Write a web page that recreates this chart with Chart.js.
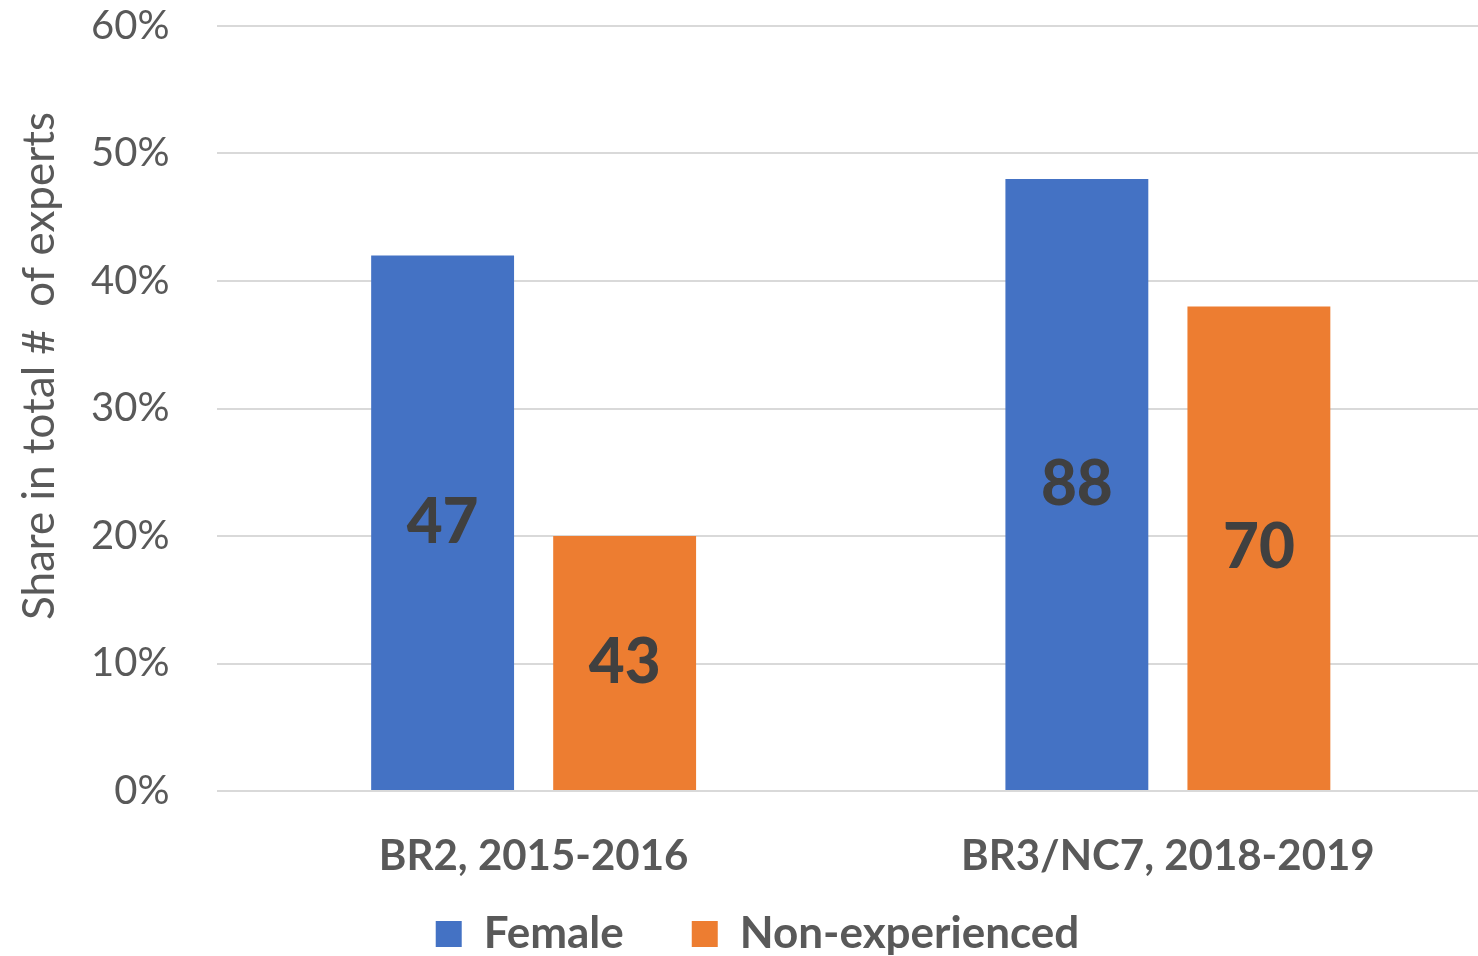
<!DOCTYPE html>
<html>
<head>
<meta charset="utf-8">
<script src="https://cdn.jsdelivr.net/npm/chart.js@4.4.1/dist/chart.umd.min.js"></script>
<style>
  html, body { margin: 0; padding: 0; background: #fff; overflow: hidden; }
  #wrap { width: 1485px; height: 956px; }
</style>
</head>
<body>
<div id="wrap"><canvas id="expertsChart"></canvas></div>
<script>
// data
const categories = ["BR2, 2015-2016", "BR3/NC7, 2018-2019"];
const femaleShare = [42, 48];
const nonExpShare = [20, 38];
const femaleCount = [47, 88];
const nonExpCount = [43, 70];
const yTicks = [0, 10, 20, 30, 40, 50, 60];
const yTitle = "Share in total #  of experts";

const textGray = "#595959";

// numbers in the middle of each bar
const barLabels = {
  id: "barLabels",
  afterDatasetsDraw(chart) {
    const ctx = chart.ctx;
    ctx.save();
    ctx.font = "900 62px Lato";
    ctx.fillStyle = "#404040";
    ctx.textAlign = "center";
    ctx.textBaseline = "middle";
    chart.data.datasets.forEach((ds, i) => {
      chart.getDatasetMeta(i).data.forEach((bar, j) => {
        ctx.fillText(ds.counts[j], bar.x, (bar.y + bar.base) / 2);
      });
    });
    ctx.restore();
  },
};

// y axis title, placed where excel put it
const sideTitle = {
  id: "sideTitle",
  afterDraw(chart) {
    const ctx = chart.ctx;
    ctx.save();
    ctx.translate(40, 366);
    ctx.rotate(-Math.PI / 2);
    ctx.font = "44px Lato";
    ctx.fillStyle = textGray;
    ctx.textAlign = "center";
    ctx.textBaseline = "middle";
    ctx.fillText(yTitle, 0, 0);
    ctx.restore();
  },
};

const ctx = document.getElementById("expertsChart");
new Chart(ctx, {
  type: "bar",
  data: {
    labels: categories,
    datasets: [
      {
        label: "Female",
        data: femaleShare,
        counts: femaleCount,
        backgroundColor: "#4472C4",
        borderWidth: 0,
      },
      {
        label: "Non-experienced",
        data: nonExpShare,
        counts: nonExpCount,
        backgroundColor: "#ED7D31",
        borderWidth: 0,
      },
    ],
  },
  options: {
    responsive: true,
    maintainAspectRatio: false,
    animation: false,
    categoryPercentage: 0.574,
    barPercentage: 0.785,
    // left padding nudges the legend right; the y axis width below makes up for it
    layout: { padding: { top: 26, bottom: -10, left: 30, right: 0 } },
    plugins: {
      tooltip: { enabled: false },
      legend: {
        position: "bottom",
        onClick: null,
        labels: {
          boxWidth: 26,
          boxHeight: 26,
          padding: 10,
          color: textGray,
          font: { family: "Lato", size: 44, weight: "bold" },
          // empty spacer item so the two entries sit further apart
          generateLabels(chart) {
            const items = Chart.defaults.plugins.legend.labels.generateLabels(chart);
            items.splice(1, 0, {
              text: "",
              fillStyle: "rgba(0,0,0,0)",
              strokeStyle: "rgba(0,0,0,0)",
              lineWidth: 0,
              hidden: false,
            });
            return items;
          },
        },
      },
    },
    scales: {
      x: {
        grid: { display: false, drawTicks: false },
        border: { display: false },
        ticks: {
          color: textGray,
          padding: 40,
          font: { family: "Lato", size: 42, weight: "bold" },
        },
        afterFit: (scale) => { scale.height = 111; },
      },
      y: {
        min: 0,
        max: 60,
        afterBuildTicks: (scale) => { scale.ticks = yTicks.map((v) => ({ value: v })); },
        // invisible tick marks keep the labels away from the grid
        grid: { color: "#d9d9d9", lineWidth: 2, drawTicks: true, tickLength: 47, tickColor: "rgba(0,0,0,0)" },
        border: { display: false },
        ticks: {
          color: textGray,
          padding: 0,
          font: { family: "Lato", size: 40 },
          callback: (v) => v + "%",
        },
        afterFit: (scale) => { scale.width = 186.5; },
      },
    },
  },
  plugins: [barLabels, sideTitle],
});
</script>
</body>
</html>
